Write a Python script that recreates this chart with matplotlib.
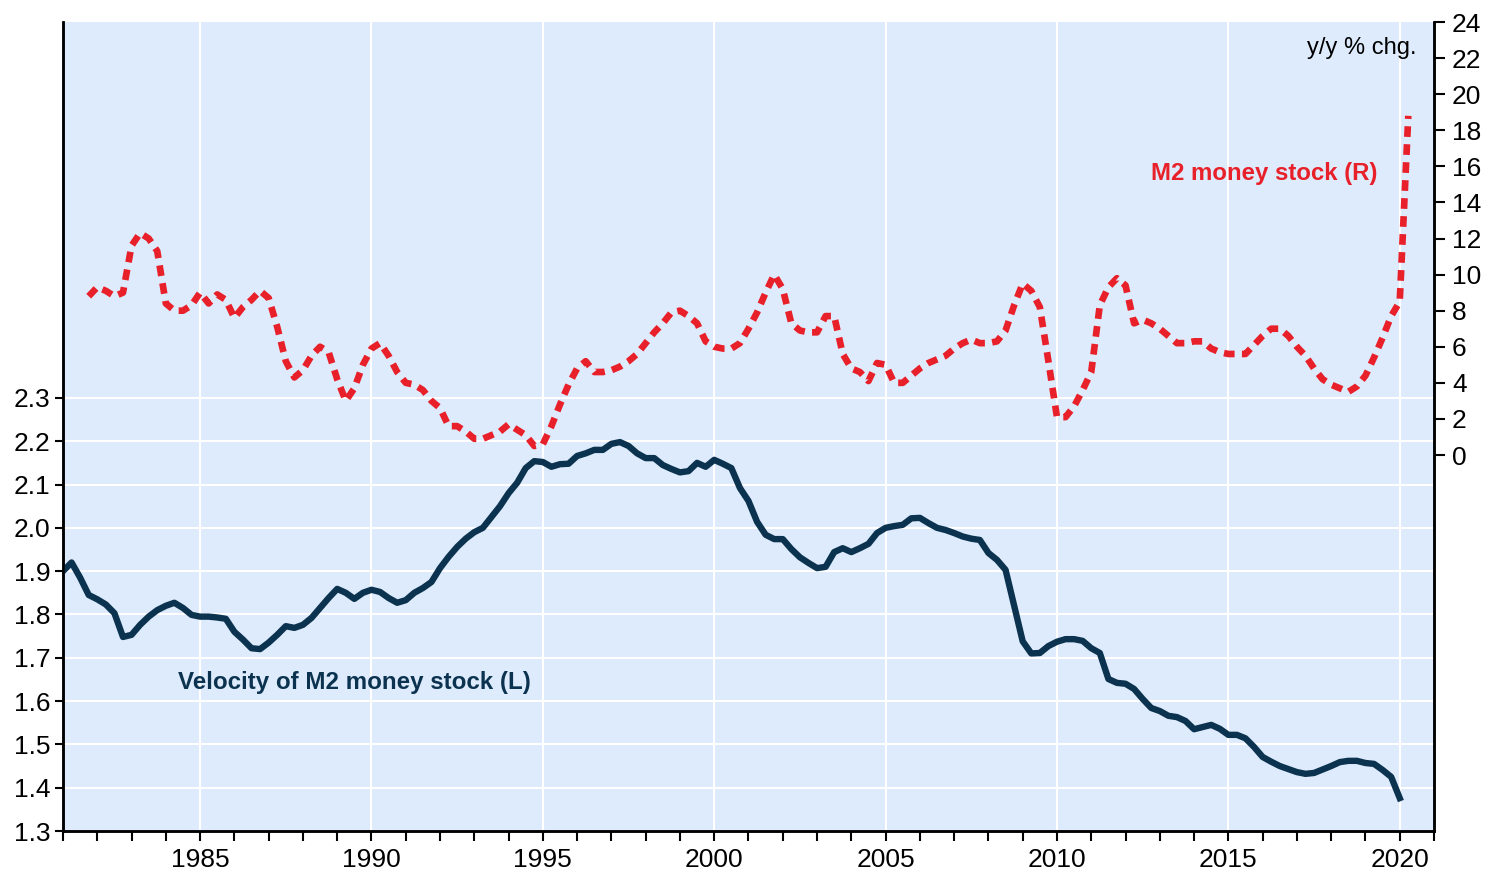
import numpy as np
import matplotlib
matplotlib.use("Agg")
import matplotlib.pyplot as plt
from matplotlib.ticker import MultipleLocator

plt.rcParams['font.family'] = ['Liberation Sans', 'DejaVu Sans']

# quarterly data, first quarter starts 1981.0
velocity_start = 1981.0
velocity = [
    1.900, 1.920, 1.885, 1.845, 1.835, 1.823, 1.803, 1.748,  # 1981-82
    1.753, 1.776, 1.795, 1.810, 1.820, 1.827, 1.815, 1.799,  # 1983-84
    1.795, 1.795, 1.793, 1.790, 1.760, 1.742, 1.722, 1.720,  # 1985-86
    1.735, 1.753, 1.773, 1.769, 1.776, 1.792, 1.815, 1.838,  # 1987-88
    1.859, 1.850, 1.836, 1.850, 1.857, 1.852, 1.838, 1.827,  # 1989-90
    1.833, 1.850, 1.861, 1.875, 1.907, 1.933, 1.956, 1.975,  # 1991-92
    1.990, 2.000, 2.025, 2.050, 2.080, 2.104, 2.138, 2.154,  # 1993-94
    2.152, 2.141, 2.147, 2.148, 2.166, 2.172, 2.180, 2.180,  # 1995-96
    2.194, 2.198, 2.189, 2.172, 2.161, 2.161, 2.145, 2.136,  # 1997-98
    2.128, 2.131, 2.150, 2.141, 2.157, 2.148, 2.138, 2.092,  # 1999-2000
    2.062, 2.014, 1.984, 1.974, 1.974, 1.951, 1.932, 1.919,  # 2001-02
    1.907, 1.910, 1.944, 1.953, 1.944, 1.953, 1.963, 1.988,  # 2003-04
    2.000, 2.004, 2.007, 2.022, 2.023, 2.011, 2.000, 1.995,  # 2005-06
    1.988, 1.980, 1.975, 1.972, 1.942, 1.926, 1.903, 1.820,  # 2007-08
    1.738, 1.710, 1.711, 1.727, 1.737, 1.743, 1.743, 1.739,  # 2009-10
    1.722, 1.711, 1.651, 1.642, 1.640, 1.628, 1.605, 1.584,  # 2011-12
    1.577, 1.566, 1.563, 1.554, 1.535, 1.540, 1.545, 1.536,  # 2013-14
    1.522, 1.522, 1.514, 1.494, 1.471, 1.460, 1.450, 1.443,  # 2015-16
    1.436, 1.432, 1.434, 1.442, 1.450, 1.459, 1.462, 1.462,  # 2017-18
    1.457, 1.455, 1.441, 1.425,                              # 2019
    1.376,                                                   # 2020Q1
]

m2_start = 1981.75
m2_growth = [
    8.8,                                            # 1981Q4
    9.3, 9.1, 8.8, 9.0, 11.6, 12.3, 12.0, 11.3,     # 1982-83
    8.4, 8.0, 8.0, 8.3, 9.0, 8.4, 8.9, 8.6,         # 1984-85
    7.6, 8.2, 8.6, 9.1, 8.7, 7.1, 5.2, 4.3,         # 1986-87
    4.7, 5.5, 6.0, 5.7, 4.2, 3.0, 3.7, 5.0,         # 1988-89
    5.9, 6.2, 5.5, 4.6, 4.0, 3.9, 3.6, 3.0,         # 1990-91
    2.6, 1.6, 1.6, 1.3, 0.9, 0.9, 1.1, 1.3,         # 1992-93
    1.7, 1.4, 1.1, 0.5, 0.6, 1.6, 2.8, 3.9,         # 1994-95
    4.8, 5.2, 4.6, 4.6, 4.7, 4.9, 5.2, 5.6,         # 1996-97
    6.2, 6.8, 7.3, 7.9, 8.0, 7.7, 7.3, 6.3,         # 1998-99
    6.0, 5.9, 5.9, 6.2, 7.0, 7.9, 9.0, 10.0,        # 2000-01
    9.2, 7.3, 6.9, 6.8, 6.8, 7.7, 7.7, 5.6,         # 2002-03
    4.8, 4.6, 4.1, 5.1, 5.0, 4.0, 4.0, 4.4,         # 2004-05
    4.8, 5.1, 5.3, 5.5, 5.9, 6.2, 6.4, 6.2,         # 2006-07
    6.2, 6.3, 6.9, 8.3, 9.5, 9.1, 8.2, 5.2,         # 2008-09
    2.1, 2.1, 2.7, 3.6, 4.6, 8.3, 9.3, 9.8,         # 2010-11
    9.4, 7.3, 7.5, 7.3, 7.0, 6.6, 6.2, 6.2,         # 2012-13
    6.3, 6.3, 5.9, 5.7, 5.6, 5.6, 5.6, 6.1,         # 2014-15
    6.6, 7.0, 7.0, 6.6, 6.0, 5.5, 4.8, 4.2,         # 2016-17
    3.9, 3.7, 3.5, 3.8, 4.4, 5.4, 6.5, 7.7,         # 2018-19
    8.5, 18.8,                                      # 2020
]

left_ticks = [1.3, 1.4, 1.5, 1.6, 1.7, 1.8, 1.9, 2.0, 2.1, 2.2, 2.3]
right_ticks = list(range(0, 25, 2))
year_ticks = list(range(1985, 2021, 5))

navy = '#0b3350'
red = '#e8202a'
bg = '#deebfc'

vel_x = velocity_start + 0.25 * np.arange(len(velocity))
m2_x = m2_start + 0.25 * np.arange(len(m2_growth))

fig = plt.figure(figsize=(14.97, 8.75), dpi=100)
ax = fig.add_axes([63 / 1497, 1 - 831 / 875, (1434 - 63) / 1497, (831 - 22) / 875])
ax.set_facecolor(bg)
ax2 = ax.twinx()

ax.plot(vel_x, velocity, color=navy, lw=4.6, solid_joinstyle='round', zorder=3)
ax2.plot(m2_x, m2_growth, color=red, lw=4.8, dashes=(1.6, 1.1), zorder=3)

ax.set_xlim(1981, 2021)
ax.set_ylim(1.3, 3.168)
ax2.set_ylim(-20.84, 24.0)

ax.set_xticks(year_ticks)
ax.xaxis.set_minor_locator(MultipleLocator(1))
ax.set_yticks(left_ticks)
ax.set_yticklabels([f'{t:.1f}' for t in left_ticks])
ax2.set_yticks(right_ticks)

ax.grid(True, which='major', color='white', lw=1.5)
ax.set_axisbelow(True)

for a in (ax, ax2):
    a.spines['top'].set_visible(False)
    for s in ('left', 'right', 'bottom'):
        a.spines[s].set_linewidth(1.8)
        a.spines[s].set_color('black')

ax.tick_params(axis='x', which='both', direction='out', length=7, width=1.5,
               labelsize=19, pad=5)
ax.tick_params(axis='y', direction='out', length=6, width=1.5, labelsize=19, pad=3)
ax2.tick_params(axis='y', direction='out', length=8, width=1.5, labelsize=19, pad=5)

ax2.text(0.9876, 0.968, 'y/y % chg.', transform=ax.transAxes, ha='right',
         va='center', fontsize=17, color='black')
ax2.text(0.959, 0.813, 'M2 money stock (R)', transform=ax.transAxes, ha='right',
         va='center', fontsize=17.3, fontweight='bold', color=red)
ax.text(0.084, 0.183, 'Velocity of M2 money stock (L)', transform=ax.transAxes,
        ha='left', va='center', fontsize=17.4, fontweight='bold', color=navy)

fig.savefig('out.png', dpi=100)
